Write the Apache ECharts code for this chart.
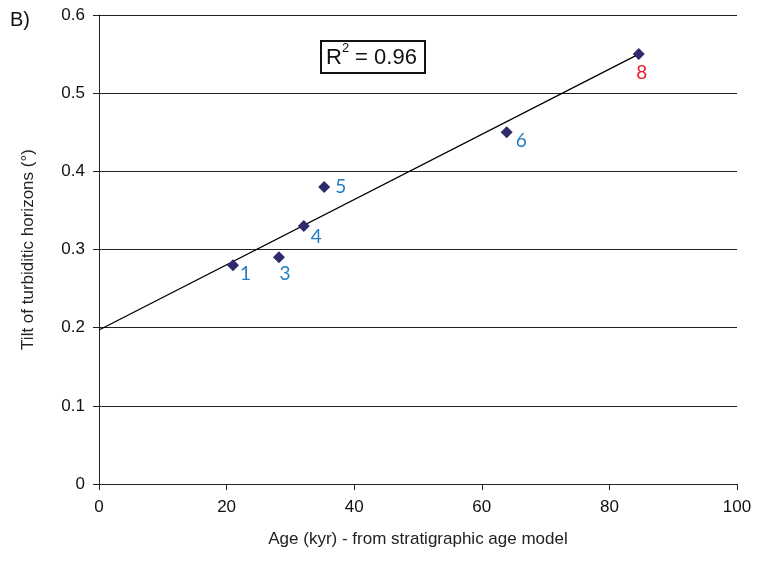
<!DOCTYPE html>
<html>
<head>
<meta charset="utf-8">
<script src="https://cdn.jsdelivr.net/npm/echarts@6/dist/echarts.min.js"></script>
<style>
  html, body { margin: 0; padding: 0; background: #fff; }
  #chart { width: 770px; height: 572px; }
</style>
</head>
<body>
<div id="chart"></div>
<script>
// sample data
const ages = [21.0, 28.2, 32.1, 35.3, 63.9, 84.6];
const tilts = [0.28, 0.29, 0.33, 0.38, 0.45, 0.55];
const sampleNames = ['1', '3', '4', '5', '6', '8'];
const trendAges = [0, 84.6];
const trendTilts = [0.197, 0.55];
const xTicks = [0, 20, 40, 60, 80, 100];
const yTicks = [0, 0.1, 0.2, 0.3, 0.4, 0.5, 0.6];

// label placement per sample (styling only)
const labelPlace = [
  { position: 'right', offset: [-2, 9], color: '#1f7ec6' },
  { position: 'bottom', offset: [6, -2], color: '#1f7ec6' },
  { position: 'right', offset: [-2, 11], color: '#1f7ec6' },
  { position: 'right', offset: [2, 0], color: '#1f7ec6' },
  { position: 'right', offset: [0, 9], color: '#1f7ec6' },
  { position: 'bottom', offset: [3, 0], color: '#ec1c24' }
];

const font = '"Liberation Sans", Arial, sans-serif';

const pts = ages.map((a, i) => ({
  value: [a, tilts[i]],
  name: sampleNames[i],
  label: {
    show: true,
    formatter: sampleNames[i],
    position: labelPlace[i].position,
    offset: labelPlace[i].offset,
    distance: 3,
    color: labelPlace[i].color,
    fontSize: 19,
    fontFamily: 'Lato, "Open Sans", sans-serif'
  }
}));

const chart = echarts.init(document.getElementById('chart'));
chart.setOption({
  animation: false,
  grid: { left: 99, right: 33, top: 15, bottom: 88 },
  xAxis: {
    type: 'value',
    min: 0, max: 100, interval: 20,
    name: 'Age (kyr) - from stratigraphic age model',
    nameLocation: 'middle',
    nameGap: 47,
    nameTextStyle: { fontSize: 17, color: '#222', fontFamily: font },
    axisLine: { onZero: false, lineStyle: { color: '#222', width: 1 } },
    axisTick: { show: true, inside: false, length: 6, lineStyle: { color: '#222' } },
    axisLabel: { fontSize: 17, color: '#111', margin: 15, fontFamily: font,
      formatter: v => xTicks.includes(v) ? String(v) : '' },
    splitLine: { show: false }
  },
  yAxis: {
    type: 'value',
    min: 0, max: 0.6, interval: 0.1,
    name: 'Tilt of turbiditic horizons (°)',
    nameLocation: 'middle',
    nameGap: 62,
    nameTextStyle: { fontSize: 17, color: '#222', fontFamily: font },
    axisLine: { show: true, lineStyle: { color: '#222', width: 1 } },
    axisTick: { show: true, length: 6, lineStyle: { color: '#222' } },
    axisLabel: { fontSize: 17, color: '#111', margin: 14, fontFamily: font,
      formatter: v => {
        const t = yTicks.find(y => Math.abs(y - v) < 1e-9);
        return t === undefined ? '' : (t === 0 ? '0' : t.toFixed(1));
      } },
    splitLine: { show: true, lineStyle: { color: '#222', width: 1 } }
  },
  graphic: [
    {
      type: 'text', left: 10, top: 10,
      style: { text: 'B)', fill: '#111', font: '20px "Liberation Sans", Arial, sans-serif' }
    },
    {
      type: 'rect', shape: { x: 321, y: 41, width: 104, height: 32 },
      style: { fill: '#fff', stroke: '#111', lineWidth: 2 }
    },
    {
      type: 'text', x: 326, y: 47,
      style: { text: 'R', fill: '#111', font: '22px "Liberation Sans", Arial, sans-serif', verticalAlign: 'top' }
    },
    {
      type: 'text', x: 342, y: 42,
      style: { text: '2', fill: '#111', font: '13px "Liberation Sans", Arial, sans-serif', verticalAlign: 'top' }
    },
    {
      type: 'text', x: 349, y: 47,
      style: { text: ' = 0.96', fill: '#111', font: '22px "Liberation Sans", Arial, sans-serif', verticalAlign: 'top' }
    }
  ],
  series: [
    {
      type: 'line',
      data: trendAges.map((a, i) => [a, trendTilts[i]]),
      symbol: 'none',
      lineStyle: { color: '#000', width: 1.3 },
      z: 2
    },
    {
      type: 'scatter',
      data: pts,
      symbol: 'diamond',
      symbolSize: [12, 12],
      itemStyle: { color: '#2e2a6c', opacity: 1 },
      z: 3
    }
  ]
});
</script>
</body>
</html>
